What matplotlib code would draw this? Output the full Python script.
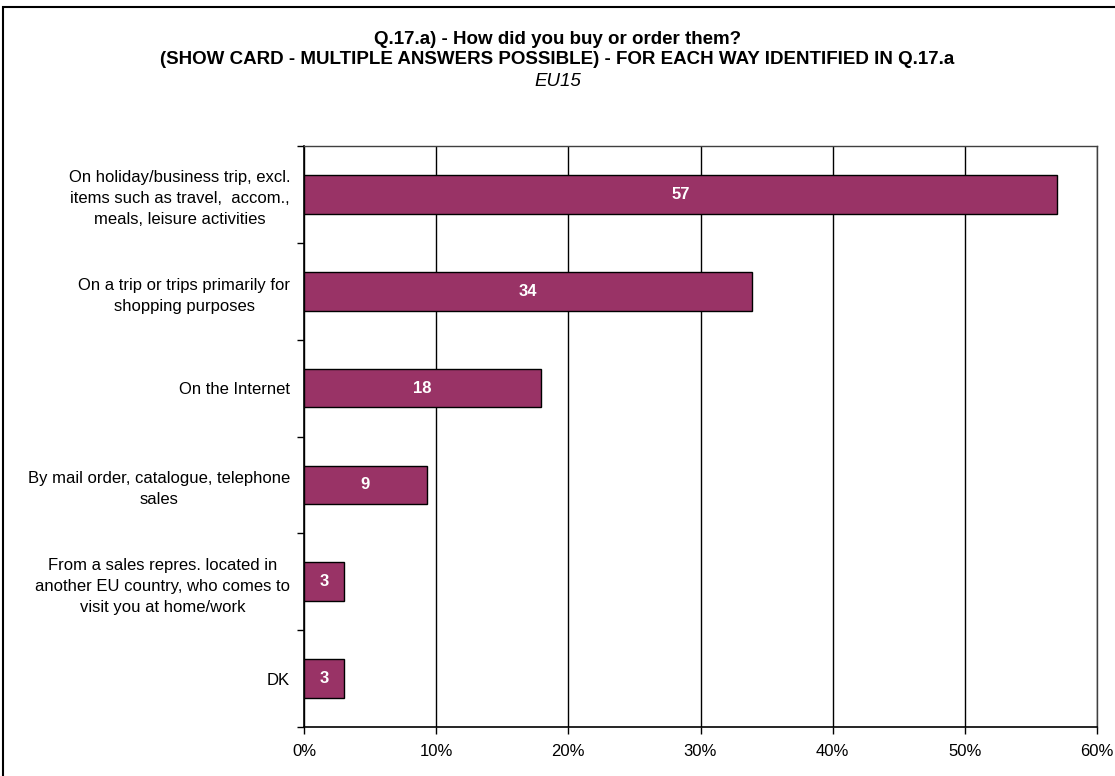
import matplotlib
matplotlib.use("Agg")
import matplotlib.pyplot as plt
import numpy as np
from matplotlib.patches import Rectangle
from matplotlib.ticker import FixedLocator, PercentFormatter

plt.rcParams["font.family"] = ["Liberation Sans", "DejaVu Sans"]

categories = [
    "On holiday/business trip, excl.\nitems such as travel,  accom.,\nmeals, leisure activities",
    "On a trip or trips primarily for\nshopping purposes",
    "On the Internet",
    "By mail order, catalogue, telephone\nsales",
    "From a sales repres. located in\nanother EU country, who comes to\nvisit you at home/work",
    "DK",
]
values = [57.0, 33.9, 17.9, 9.3, 3.0, 3.0]
x_ticks = [0, 10, 20, 30, 40, 50, 60]

bar_color = "#993366"

fig = plt.figure(figsize=(11.15, 7.76), dpi=100)
ax = fig.add_axes([304 / 1115, 1 - 727 / 776, (1097 - 304) / 1115, (727 - 146) / 776])

y = np.arange(len(categories))
bars = ax.barh(y, values, height=0.4, color=bar_color, edgecolor="black", linewidth=1.0, zorder=3)
for bar, v in zip(bars, values):
    ax.text(bar.get_width() / 2, bar.get_y() + bar.get_height() / 2, f"{v:.0f}",
            ha="center", va="center", color="white", fontsize=12, fontweight="bold", zorder=4)

ax.set_xlim(0, 60)
ax.set_ylim(len(categories) - 0.5, -0.5)
ax.set_xticks(x_ticks)
ax.xaxis.set_major_formatter(PercentFormatter(decimals=0))
ax.set_yticks(y)
ax.set_yticklabels(categories, ha="right", multialignment="center", fontsize=12, linespacing=1.5)
ax.tick_params(axis="y", which="major", length=0, pad=10)
ax.yaxis.set_minor_locator(FixedLocator(np.arange(-0.5, len(categories), 1.0)))
ax.tick_params(axis="y", which="minor", length=5, width=1, direction="out")
ax.tick_params(axis="x", length=5, width=1, direction="out", labelsize=12, pad=7)
ax.grid(axis="x", color="black", linewidth=1.0, zorder=0)
for side in ["left", "bottom"]:
    ax.spines[side].set_color("black")
    ax.spines[side].set_linewidth(1.2)
for side in ["top", "right"]:
    ax.spines[side].set_color("#404040")
    ax.spines[side].set_linewidth(1.0)

fig.text(0.5, 1 - 40 / 776, "Q.17.a) - How did you buy or order them?",
         ha="center", va="center", fontsize=13.5, fontweight="bold")
fig.text(0.5, 1 - 60 / 776,
         "(SHOW CARD - MULTIPLE ANSWERS POSSIBLE) - FOR EACH WAY IDENTIFIED IN Q.17.a",
         ha="center", va="center", fontsize=13.5, fontweight="bold")
fig.text(0.5, 1 - 81 / 776, "EU15", ha="center", va="center", fontsize=13.5, style="italic")

# outer chart border (right and bottom edges fall outside the image)
fig.patches.append(Rectangle((3 / 1115, -0.05), 1.1, 1 - 7 / 776 + 0.05, transform=fig.transFigure,
                             fill=False, edgecolor="black", linewidth=1.5))

fig.savefig("out.png", dpi=100)
